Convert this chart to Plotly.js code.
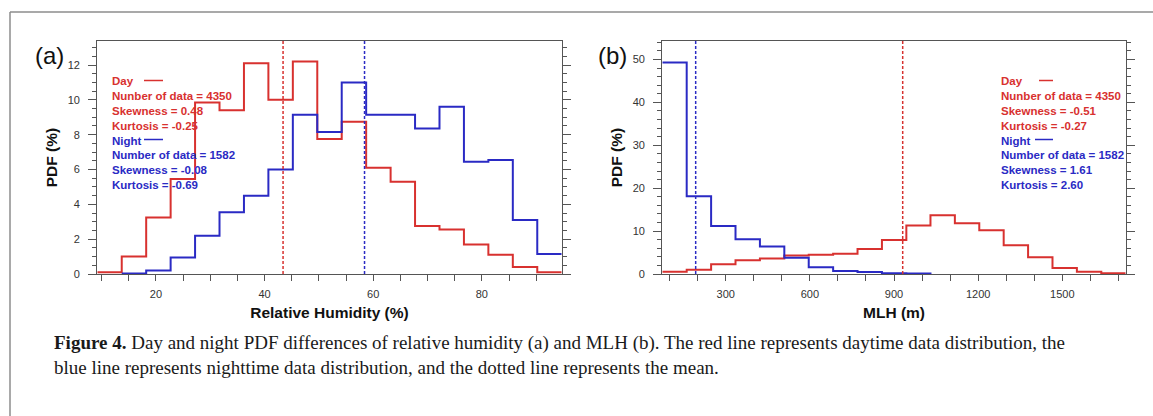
<!DOCTYPE html>
<html>
<head>
<meta charset="utf-8">
<script src="https://cdn.plot.ly/plotly-3.0.1.min.js"></script>
<style>
  html, body { margin: 0; padding: 0; background: #ffffff; }
  #chart { width: 1153px; height: 416px; }
</style>
</head>
<body>
<div id="chart"></div>
<script>
// ---------- Data ----------
// Panel (a): relative humidity bins (%)
const rhBinEdges = [9.2, 13.7, 18.2, 22.7, 27.2, 31.7, 36.2, 40.7, 45.2, 49.7, 54.2, 58.7, 63.2, 67.7, 72.2, 76.7, 81.2, 85.7, 90.2, 94.7];
const rhDayPdf   = [0.1, 1.0, 3.25, 5.45, 9.85, 9.4, 12.1, 10.0, 12.2, 7.75, 8.75, 6.1, 5.3, 2.75, 2.55, 1.7, 1.1, 0.4, 0.1];
const rhNightPdf = [null, 0.03, 0.2, 0.95, 2.2, 3.55, 4.5, 6.0, 9.15, 8.15, 11.0, 9.15, 9.15, 8.35, 9.6, 6.45, 6.55, 3.1, 1.15];
const rhDayMean = 43.4;
const rhNightMean = 58.4;

// Panel (b): MLH bins (m)
const mlhBinEdges = [74, 161, 248, 335, 422, 509, 596, 683, 770, 857, 944, 1030, 1117, 1204, 1291, 1378, 1465, 1552, 1639, 1726];
const mlhDayPdf   = [0.55, 1.0, 2.3, 3.2, 3.6, 4.3, 4.5, 4.7, 5.8, 7.9, 11.3, 13.7, 11.8, 10.2, 6.7, 3.9, 1.4, 0.5, 0.15];
const mlhNightPdf = [49.3, 18.1, 11.2, 8.1, 6.4, 3.8, 1.6, 0.7, 0.45, 0.2, 0.1, 0, null, null, null, null, null, null, null];
const mlhDayMean = 931;
const mlhNightMean = 193;

// Legend / statistics text
const statsA_day   = ["Day", "Nunber of data = 4350", "Skewness = 0.48", "Kurtosis = -0.25"];
const statsA_night = ["Night", "Number of data = 1582", "Skewness = -0.08", "Kurtosis = -0.69"];
const statsB_day   = ["Day", "Nunber of data = 4350", "Skewness = -0.51", "Kurtosis = -0.27"];
const statsB_night = ["Night", "Number of data = 1582", "Skewness = 1.61", "Kurtosis = 2.60"];

const panelLabels = ["(a)", "(b)"];
const xTitles = ["Relative Humidity (%)", "MLH (m)"];
const yTitle = "PDF (%)";
const captionBold = "Figure 4.";
const captionLine1 = " Day and night PDF differences of relative humidity (a) and MLH (b). The red line represents daytime data distribution, the";
const captionLine2 = "blue line represents nighttime data distribution, and the dotted line represents the mean.";

// ---------- Styling ----------
const W = 1153, H = 416;
const RED = '#d8312f';
const BLUE = '#2a2ac4';
const AXC = '#555555';
const px = v => v / W;
const py = v => 1 - v / H;

function stepY(vals) { return vals.concat([vals[vals.length - 1]]); }

const traces = [
  { x: rhBinEdges, y: stepY(rhDayPdf), xaxis: 'x', yaxis: 'y', mode: 'lines', line: { shape: 'hv', color: RED, width: 2 }, name: 'Day', showlegend: false, hoverinfo: 'skip' },
  { x: rhBinEdges, y: stepY(rhNightPdf), xaxis: 'x', yaxis: 'y', mode: 'lines', line: { shape: 'hv', color: BLUE, width: 2 }, name: 'Night', showlegend: false, hoverinfo: 'skip' },
  { x: mlhBinEdges, y: stepY(mlhDayPdf), xaxis: 'x2', yaxis: 'y2', mode: 'lines', line: { shape: 'hv', color: RED, width: 2 }, name: 'Day', showlegend: false, hoverinfo: 'skip' },
  { x: mlhBinEdges, y: stepY(mlhNightPdf), xaxis: 'x2', yaxis: 'y2', mode: 'lines', line: { shape: 'hv', color: BLUE, width: 2 }, name: 'Night', showlegend: false, hoverinfo: 'skip' }
];

const tickFont = { family: 'Liberation Sans, Arial, sans-serif', size: 11, color: '#333333' };
const titleFont = { family: 'Liberation Sans, Arial, sans-serif', size: 15.5, color: '#111111', weight: 'bold' };

function xAxis(domain, range, dtick, minorDtick, title, anchor) {
  return {
    domain: domain, range: range, anchor: anchor,
    tickmode: 'linear', tick0: 0, dtick: dtick,
    ticks: 'outside', ticklen: 6, tickwidth: 1, tickcolor: AXC,
    minor: { dtick: minorDtick, tick0: 0, ticks: 'outside', ticklen: 6, tickwidth: 1, tickcolor: AXC, showgrid: false },
    showline: true, linecolor: AXC, linewidth: 1.2, mirror: true,
    showgrid: false, zeroline: false,
    tickfont: tickFont, ticklabelstandoff: 4,
    title: { text: '<b>' + title + '</b>', font: titleFont, standoff: 7 },
    automargin: false, fixedrange: true
  };
}
function yAxis(domain, range, dtick, minorDtick, anchor) {
  return {
    domain: domain, range: range, anchor: anchor,
    tickmode: 'linear', tick0: 0, dtick: dtick,
    ticks: 'outside', ticklen: 8, tickwidth: 1, tickcolor: AXC,
    minor: { dtick: minorDtick, tick0: 0, ticks: 'outside', ticklen: 4, tickwidth: 1, tickcolor: AXC, showgrid: false },
    showline: true, linecolor: AXC, linewidth: 1.2, mirror: 'allticks',
    showgrid: false, zeroline: false,
    tickfont: tickFont, ticklabelstandoff: 6,
    title: { text: '<b>' + yTitle + '</b>', font: titleFont, standoff: 6 },
    automargin: false, fixedrange: true
  };
}

const yDom = [1 - 274 / H, 1 - 41 / H];

const shapes = [
  // mean lines
  { type: 'line', xref: 'x', yref: 'y domain', x0: rhDayMean, x1: rhDayMean, y0: 0, y1: 1, line: { color: RED, width: 1.5, dash: '3px,2px' } },
  { type: 'line', xref: 'x', yref: 'y domain', x0: rhNightMean, x1: rhNightMean, y0: 0, y1: 1, line: { color: BLUE, width: 1.5, dash: '3px,2px' } },
  { type: 'line', xref: 'x2', yref: 'y2 domain', x0: mlhDayMean, x1: mlhDayMean, y0: 0, y1: 1, line: { color: RED, width: 1.5, dash: '3px,2px' } },
  { type: 'line', xref: 'x2', yref: 'y2 domain', x0: mlhNightMean, x1: mlhNightMean, y0: 0, y1: 1, line: { color: BLUE, width: 1.5, dash: '3px,2px' } },
  // figure frame (left and top edges)
  { type: 'line', xref: 'paper', yref: 'paper', x0: px(10), x1: px(10), y0: 0, y1: py(12), line: { color: '#8c8c8c', width: 1.5 } },
  { type: 'line', xref: 'paper', yref: 'paper', x0: px(10), x1: 1, y0: py(12), y1: py(12), line: { color: '#8c8c8c', width: 1.5 } },
  // legend line symbols
  { type: 'line', xref: 'paper', yref: 'paper', x0: px(144), x1: px(163), y0: py(80.5), y1: py(80.5), line: { color: RED, width: 1.5 } },
  { type: 'line', xref: 'paper', yref: 'paper', x0: px(144), x1: px(163), y0: py(139.5), y1: py(139.5), line: { color: BLUE, width: 1.5 } },
  { type: 'line', xref: 'paper', yref: 'paper', x0: px(1039), x1: px(1053), y0: py(80.5), y1: py(80.5), line: { color: RED, width: 1.5 } },
  { type: 'line', xref: 'paper', yref: 'paper', x0: px(1035), x1: px(1053), y0: py(139.5), y1: py(139.5), line: { color: BLUE, width: 1.5 } }
];

const annotations = [];
const statFont = (c) => ({ family: 'Liberation Sans, Arial, sans-serif', size: 11.5, color: c, weight: 'bold' });
function addStats(lines, color, xLeft, yStart) {
  lines.forEach((t, i) => {
    annotations.push({ xref: 'paper', yref: 'paper', x: px(xLeft), y: py(yStart + i * 14.9), xanchor: 'left', yanchor: 'middle',
      text: '<b>' + t + '</b>', showarrow: false, font: statFont(color) });
  });
}
addStats(statsA_day, RED, 110, 81);
addStats(statsA_night, BLUE, 110, 140.6);
addStats(statsB_day, RED, 999, 81);
addStats(statsB_night, BLUE, 999, 140.6);

// panel labels
annotations.push({ xref: 'paper', yref: 'paper', x: px(49), y: py(56), xanchor: 'center', yanchor: 'middle', text: panelLabels[0], showarrow: false,
  font: { family: 'Liberation Sans, Arial, sans-serif', size: 24, color: '#111111' } });
annotations.push({ xref: 'paper', yref: 'paper', x: px(612), y: py(56), xanchor: 'center', yanchor: 'middle', text: panelLabels[1], showarrow: false,
  font: { family: 'Liberation Sans, Arial, sans-serif', size: 24, color: '#111111' } });

// caption
const capFont = { family: 'Liberation Serif, Times New Roman, serif', size: 19, color: '#1a1a1a' };
annotations.push({ xref: 'paper', yref: 'paper', x: px(52), y: py(343), xanchor: 'left', yanchor: 'middle', showarrow: false,
  text: '<b>' + captionBold + '</b>' + captionLine1, font: capFont });
annotations.push({ xref: 'paper', yref: 'paper', x: px(52), y: py(367), xanchor: 'left', yanchor: 'middle', showarrow: false,
  text: captionLine2, font: capFont });

const layout = {
  width: W, height: H,
  margin: { l: 0, r: 0, t: 0, b: 0 },
  paper_bgcolor: '#ffffff', plot_bgcolor: '#ffffff',
  showlegend: false,
  xaxis:  xAxis([px(97.3), px(561.7)], [rhBinEdges[0], rhBinEdges[rhBinEdges.length - 1]], 20, 5, xTitles[0], 'y'),
  yaxis:  yAxis(yDom, [0, 13.38], 2, 0.5, 'x'),
  xaxis2: xAxis([px(662.3), px(1125.7)], [mlhBinEdges[0], mlhBinEdges[mlhBinEdges.length - 1]], 300, 100, xTitles[1], 'y2'),
  yaxis2: yAxis(yDom, [0, 54.3], 10, 2, 'x2'),
  shapes: shapes,
  annotations: annotations
};

Plotly.newPlot('chart', traces, layout, { displayModeBar: false, staticPlot: true });
</script>
</body>
</html>
